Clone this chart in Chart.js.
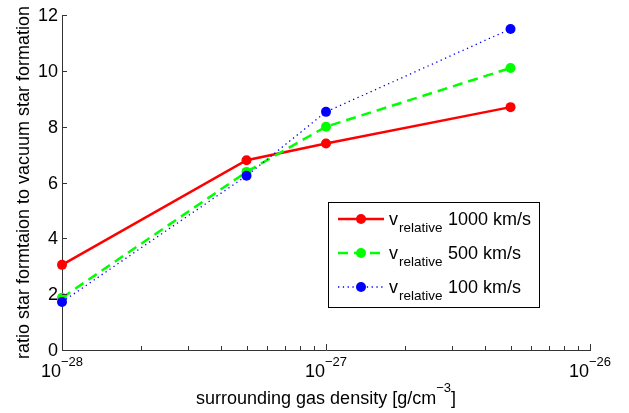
<!DOCTYPE html>
<html>
<head>
<meta charset="utf-8">
<script src="https://cdn.jsdelivr.net/npm/chart.js@4.4.0/dist/chart.umd.min.js"></script>
<style>
  html, body { margin: 0; padding: 0; background: #fff; }
  #wrap { width: 629px; height: 413px; }
</style>
</head>
<body>
<div id="wrap"><canvas id="ratioChart" width="629" height="413"></canvas></div>
<script>
const densities = [1e-28, 5e-28, 1e-27, 5e-27];
const ratio1000 = [3.05, 6.8, 7.4, 8.7];
const ratio500 = [1.87, 6.38, 8.0, 10.1];
const ratio100 = [1.72, 6.24, 8.53, 11.5];
const seriesNames = ['1000 km/s', '500 km/s', '100 km/s'];
const yTicks = [0, 2, 4, 6, 8, 10, 12];
const xDecades = [-28, -27, -26];

const FONT = '"Liberation Sans", Arial, sans-serif';
const AXIS = '#333';

function points(vals) {
  return densities.map((d, i) => ({ x: d, y: vals[i] }));
}

// ticks pointing inward, labels with superscripts, axis titles, legend
const decorations = {
  id: 'decorations',
  afterDraw(chart) {
    const ctx = chart.ctx;
    const xs = chart.scales.x;
    const ys = chart.scales.y;
    const area = chart.chartArea;
    ctx.save();
    ctx.strokeStyle = AXIS;
    ctx.lineWidth = 1;
    ctx.fillStyle = '#000';

    // y ticks + labels
    ctx.font = '18px ' + FONT;
    ctx.textAlign = 'right';
    ctx.textBaseline = 'middle';
    yTicks.forEach(v => {
      const y = Math.round(ys.getPixelForValue(v)) + 0.5;
      ctx.beginPath();
      ctx.moveTo(area.left, y);
      ctx.lineTo(area.left + 5, y);
      ctx.stroke();
      ctx.fillText(String(v), area.left - 4, y + 1);
    });

    // x ticks (major + minor)
    for (let e = -28; e <= -26; e++) {
      const maxM = e === -26 ? 1 : 9;
      for (let m = 1; m <= maxM; m++) {
        const x = Math.round(xs.getPixelForValue(m * Math.pow(10, e))) + 0.5;
        const len = m === 1 ? 6 : 4;
        ctx.beginPath();
        ctx.moveTo(x, area.bottom);
        ctx.lineTo(x, area.bottom - len);
        ctx.stroke();
      }
    }

    // x decade labels 10^e
    ctx.textBaseline = 'alphabetic';
    xDecades.forEach(e => {
      const x = xs.getPixelForValue(Math.pow(10, e));
      ctx.font = '18px ' + FONT;
      const base = '10';
      const wb = ctx.measureText(base).width;
      ctx.font = '13px ' + FONT;
      const exp = '\u2212' + String(-e);
      const we = ctx.measureText(exp).width;
      const start = x - (wb + we) / 2;
      ctx.textAlign = 'left';
      ctx.font = '18px ' + FONT;
      ctx.fillText(base, start, 377);
      ctx.font = '13px ' + FONT;
      ctx.fillText(exp, start + wb, 366);
    });

    // x title
    ctx.font = '18px ' + FONT;
    const t1 = 'surrounding gas density [g/cm';
    const t3 = ']';
    const w1 = ctx.measureText(t1).width;
    const w3 = ctx.measureText(t3).width;
    ctx.font = '13px ' + FONT;
    const t2 = '\u22123';
    const w2 = ctx.measureText(t2).width;
    const cx = (area.left + area.right) / 2;
    let sx = cx - (w1 + w2 + w3) / 2;
    ctx.textAlign = 'left';
    ctx.font = '18px ' + FONT;
    ctx.fillText(t1, sx, 404);
    ctx.font = '13px ' + FONT;
    ctx.fillText(t2, sx + w1, 392);
    ctx.font = '18px ' + FONT;
    ctx.fillText(t3, sx + w1 + w2, 404);

    // y title
    ctx.save();
    ctx.translate(29, (area.top + area.bottom) / 2);
    ctx.rotate(-Math.PI / 2);
    ctx.textAlign = 'center';
    ctx.textBaseline = 'alphabetic';
    ctx.font = '18px ' + FONT;
    ctx.fillText('ratio star formtaion to vacuum star formation', 0, 0);
    ctx.restore();

    // legend
    const lx = 328.5, ly = 202.5, lw = 211, lh = 105;
    ctx.fillStyle = '#fff';
    ctx.fillRect(lx, ly, lw, lh);
    ctx.strokeStyle = '#000';
    ctx.lineWidth = 1;
    ctx.strokeRect(lx, ly, lw, lh);
    chart.data.datasets.forEach((ds, i) => {
      const y = 219 + i * 34;
      ctx.save();
      ctx.strokeStyle = ds.borderColor;
      ctx.lineWidth = ds.borderWidth;
      ctx.setLineDash(ds.borderDash || []);
      ctx.beginPath();
      ctx.moveTo(338, y);
      ctx.lineTo(384, y);
      ctx.stroke();
      ctx.restore();
      ctx.fillStyle = ds.pointBackgroundColor;
      ctx.beginPath();
      ctx.arc(361, y, 5, 0, Math.PI * 2);
      ctx.fill();
      ctx.fillStyle = '#000';
      ctx.textAlign = 'left';
      ctx.textBaseline = 'alphabetic';
      ctx.font = '18px ' + FONT;
      ctx.fillText('v', 389, y + 6);
      const wv = ctx.measureText('v').width;
      ctx.font = '13.5px ' + FONT;
      ctx.fillText('relative', 389 + wv + 1, y + 13);
      ctx.font = '18px ' + FONT;
      ctx.fillText(seriesNames[i], 448, y + 6);
    });

    ctx.restore();
  }
};

new Chart(document.getElementById('ratioChart'), {
  type: 'line',
  data: {
    datasets: [
      {
        label: 'v relative ' + seriesNames[0],
        data: points(ratio1000),
        borderColor: '#ff0000',
        backgroundColor: '#ff0000',
        pointBackgroundColor: '#ff0000',
        pointBorderWidth: 0,
        borderWidth: 2.5,
        pointRadius: 5,
        order: 2
      },
      {
        label: 'v relative ' + seriesNames[1],
        data: points(ratio500),
        borderColor: '#00ff00',
        backgroundColor: '#00ff00',
        pointBackgroundColor: '#00ff00',
        pointBorderWidth: 0,
        borderWidth: 2.5,
        borderDash: [10, 6],
        pointRadius: 5,
        order: 1
      },
      {
        label: 'v relative ' + seriesNames[2],
        data: points(ratio100),
        borderColor: '#0000ff',
        backgroundColor: '#0000ff',
        pointBackgroundColor: '#0000ff',
        pointBorderWidth: 0,
        borderWidth: 1.3,
        borderDash: [1.3, 3.5],
        pointRadius: 5,
        order: 0
      }
    ]
  },
  options: {
    responsive: false,
    animation: false,
    clip: false,
    layout: { padding: { left: 62, right: 39, top: 15, bottom: 63 } },
    plugins: {
      legend: { display: false },
      tooltip: { enabled: false }
    },
    scales: {
      x: {
        type: 'logarithmic',
        min: 1e-28,
        max: 1e-26,
        grid: { display: false, drawTicks: false },
        ticks: { display: false },
        border: { display: true, color: AXIS, width: 1 }
      },
      y: {
        min: 0,
        max: 12,
        grid: { display: false, drawTicks: false },
        ticks: { display: false },
        border: { display: true, color: AXIS, width: 1 }
      }
    }
  },
  plugins: [decorations]
});
</script>
</body>
</html>
